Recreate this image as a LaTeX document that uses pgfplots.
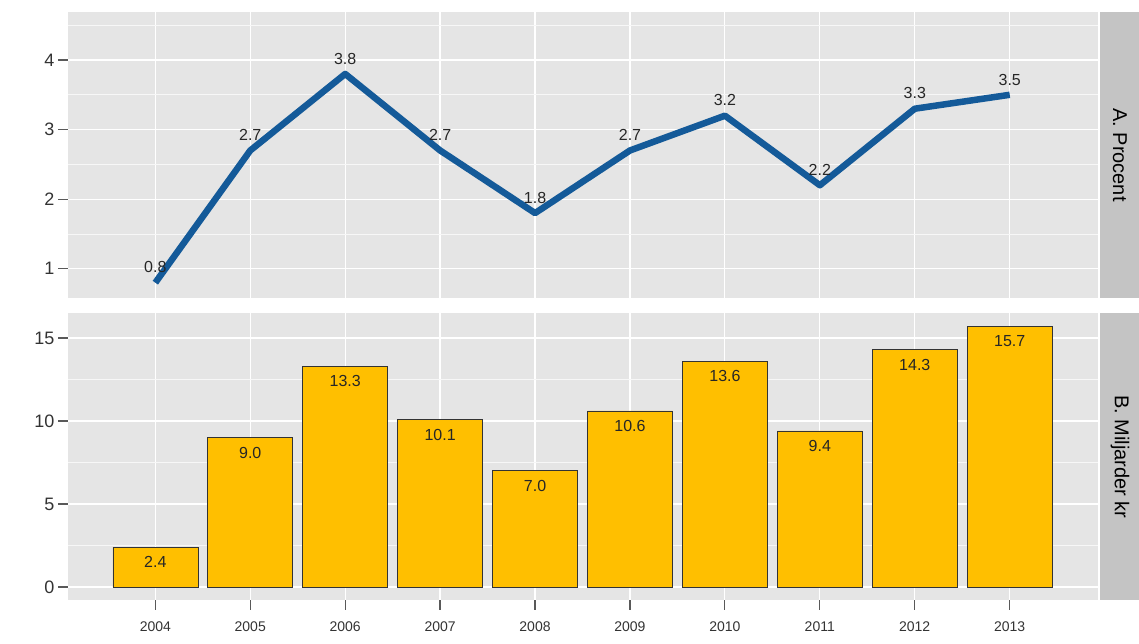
\documentclass[border=0pt]{standalone}
\usepackage{pgfplots}
\pgfplotsset{compat=1.18}
\usepackage{fontspec}
\setmainfont{Liberation Sans}
\definecolor{panel}{HTML}{E5E5E5}
\definecolor{strip}{HTML}{C4C4C4}
\definecolor{lineblue}{HTML}{145A99}
\definecolor{baryel}{HTML}{FFBF00}
\begin{document}
\begin{tikzpicture}
\useasboundingbox (0pt,0pt) rectangle (1139pt,644pt);
\pgfplotsset{
  common/.style={
    scale only axis, width=1030pt, anchor=south west,
    xmin=2003.08, xmax=2013.93,
    axis background/.style={fill=panel},
    axis line style={draw=none},
    grid=both, major grid style={white, line width=1.2pt},
    minor grid style={white!70!panel, line width=0.6pt},
    tick style={draw=gray!70!black, line width=1.2pt},
    tick align=outside, major tick length=10pt, minor tick length=0pt,
    xtick={2004,...,2013}, minor xtick={},
    ticklabel style={font=\fontsize{18}{18}\selectfont, text=black!80},
    /pgf/number format/assume math mode=true,
    x tick label style={font=\fontsize{14}{14}\selectfont, /pgf/number format/1000 sep={}, yshift=-8pt},
    ytick pos=left, xtick pos=bottom,
    clip=false,
  }
}
\begin{axis}[common, at={(68pt,346pt)}, height=286pt,
  ymin=0.58, ymax=4.69, ytick={1,2,3,4}, minor ytick={0.5,1.5,2.5,3.5,4.5},
  xticklabels={}, major x tick style={draw=none}]
\addplot[lineblue, line width=6.5pt, line join=round,
  nodes near coords, every node near coord/.style={font=\fontsize{16}{16}\selectfont, text=black!85, anchor=south, yshift=3pt},
  point meta=explicit symbolic] coordinates {
(2004,0.8)[0.8] (2005,2.7)[2.7] (2006,3.8)[3.8] (2007,2.7)[2.7] (2008,1.8)[1.8]
(2009,2.7)[2.7] (2010,3.2)[3.2] (2011,2.2)[2.2] (2012,3.3)[3.3] (2013,3.5)[3.5]};
\end{axis}
\begin{axis}[common, at={(68pt,44pt)}, height=287pt,
  ymin=-0.78, ymax=16.5, ytick={0,5,10,15}, minor ytick={2.5,7.5,12.5},
  ybar, bar width=85pt, bar shift=0pt]
\addplot[fill=baryel, draw=black!80, line width=0.6pt,
  nodes near coords, every node near coord/.style={font=\fontsize{16}{16}\selectfont, text=black!85, anchor=north, yshift=-6pt},
  point meta=explicit symbolic] coordinates {
(2004,2.4)[2.4] (2005,9.0)[9.0] (2006,13.3)[13.3] (2007,10.1)[10.1] (2008,7.0)[7.0]
(2009,10.6)[10.6] (2010,13.6)[13.6] (2011,9.4)[9.4] (2012,14.3)[14.3] (2013,15.7)[15.7]};
\end{axis}
\fill[strip] (1100pt,346pt) rectangle (1139pt,632pt);
\fill[strip] (1100pt,44pt) rectangle (1139pt,331pt);
\node[rotate=-90, font=\fontsize{20}{20}\selectfont] at (1120pt,489pt) {A. Procent};
\node[rotate=-90, font=\fontsize{20}{20}\selectfont] at (1120pt,187pt) {B. Miljarder kr};
\end{tikzpicture}
\end{document}
